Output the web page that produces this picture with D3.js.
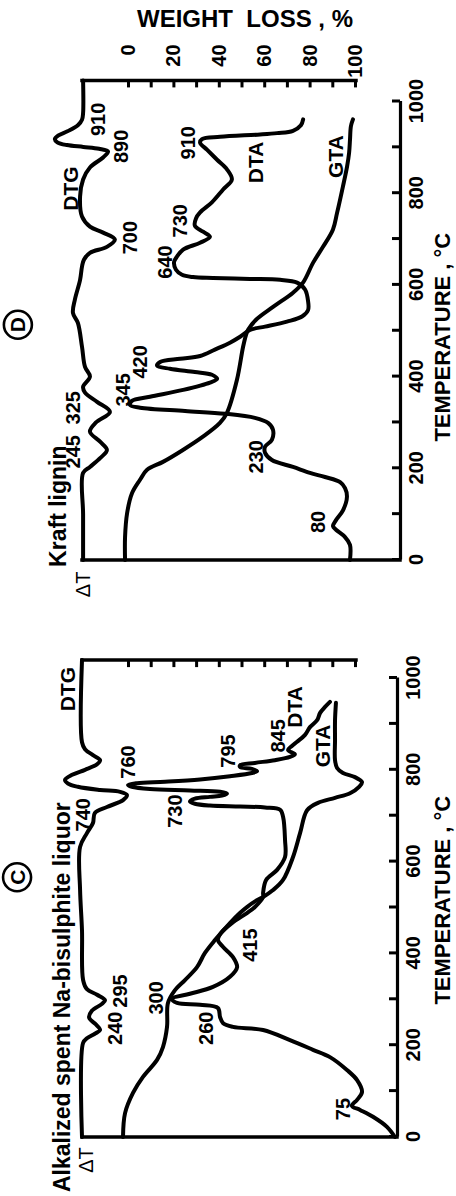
<!DOCTYPE html>
<html>
<head>
<meta charset="utf-8">
<script src="https://cdn.jsdelivr.net/npm/d3@7"></script>
<style>
  html, body { margin: 0; padding: 0; background: #fff; }
  svg { display: block; }
  text { font-family: "Liberation Sans", Arial, Helvetica, sans-serif; fill: #000; }
</style>
</head>
<body>
<svg id="chart" width="456" height="1196"></svg>
<script>
// ---------------- DATA ----------------
const tempTicks = [0, 100, 200, 300, 400, 500, 600, 700, 800, 900, 1000];
const tempTickLabels = [0, 200, 400, 600, 800, 1000];
const weightTicks = [0, 10, 20, 30, 40, 50, 60, 70, 80, 90, 100];
const weightTickLabels = [0, 20, 40, 60, 80, 100];

// Panel C: Alkalized spent Na-bisulphite liquor  ([temperature °C, value])
// DTG / DTA in relative deflection units (0-100), GTA in weight loss %
const liquorDTG = [[0,0],[205,0.4],[215,1.8],[225,4.7],[233,6.6],[245,5.1],[260,2.6],[275,3.6],[290,7.3],[298,8.4],[310,5.5],[322,1.8],[342,0.4],[450,0],[538,-0.7],[632,-0.7],[662,1.8],[684,4],[706,4.7],[719,9.1],[734,15],[745,16.4],[752,13.9],[756,6.6],[763,-1.5],[770,-5.1],[778,-6.2],[789,-3.6],[800,1.1],[812,5.5],[821,6.6],[832,4],[845,1.1],[860,0],[1039,0]];
const liquorDTA = [[0,114.2],[22,111.3],[44,106.2],[59,101.5],[68,98.5],[81,100.4],[98,102.2],[124,100.4],[146,96.7],[174,90.5],[190,84.3],[211,75.9],[233,66.1],[240,55.1],[248,51.5],[261,50.4],[281,49.6],[288,43.1],[292,34.7],[301,32.8],[312,39.4],[327,47.8],[349,54],[370,56.6],[392,55.1],[414,51.5],[429,49.6],[444,50.7],[466,54.7],[488,60.2],[501,63.1],[523,66.1],[532,66.1],[560,67.2],[582,71.2],[610,74.1],[647,74.1],[697,73.4],[713,72.3],[718,66.8],[720,57.7],[722,46.7],[726,41.2],[731,39.4],[737,41.2],[741,46.7],[744,51.1],[748,52.9],[752,50.4],[755,39.4],[758,24.8],[763,18.2],[767,16.8],[771,20.1],[774,30.3],[779,43.1],[786,54],[793,62],[797,63.9],[802,62],[806,57.7],[810,57.7],[815,63.1],[821,70.4],[828,75.9],[834,77.7],[843,75.2],[852,76.6],[861,78.5],[876,81.4],[893,83.2],[908,85.8],[924,86.9],[937,88.7],[948,90.5]];
const liquorGTA = [[0,-2.2],[52,-1.3],[96,2.2],[131,6.6],[168,12.8],[196,15.4],[240,17.2],[292,17.6],[320,20.7],[342,25.1],[370,30.4],[401,33.9],[429,38.3],[466,44.9],[488,49.3],[501,52.4],[516,56.8],[523,59.5],[538,63.9],[560,68.3],[610,72.7],[662,75.8],[712,78.9],[728,83.7],[739,91.2],[749,97.8],[763,101.8],[773,103.1],[784,100],[793,94.7],[804,92.1],[821,91.2],[865,91.2],[908,91.2],[946,91.6]];

// Panel D: Kraft lignin
const kraftDTG = [[0,0.4],[100,0.4],[190,0.4],[203,2.9],[222,6.6],[240,9.1],[258,6.6],[280,2.9],[300,5.1],[323,10.2],[345,5.5],[365,1.1],[378,0.4],[400,2.9],[421,1.1],[465,0],[517,-1.5],[539,-3.3],[568,-2.6],[611,-0.7],[640,0],[655,0.7],[670,2.9],[683,9.1],[699,12],[714,7.7],[727,2.9],[749,0],[793,-0.7],[830,0.4],[856,2.9],[878,7.7],[891,9.5],[897,6.2],[901,0.5],[905,-5.5],[911,-9],[918,-9.9],[926,-8.6],[935,-5.3],[948,-1.5],[960,0],[975,0.4],[1046,0.4]];
const kraftDTA = [[0,97.8],[33,97.8],[50,96],[66,92.7],[74,91.6],[87,92.7],[109,95.3],[138,96.7],[157,96],[170,94.2],[181,88.7],[190,83.2],[203,77],[218,69.3],[234,66.8],[247,66.8],[262,69.3],[284,69.7],[299,67.9],[310,63.1],[319,52.2],[325,37.6],[332,21.2],[338,17.5],[347,18.2],[356,24.8],[371,36.9],[387,46.7],[395,49.3],[404,47.4],[410,41.2],[417,32.1],[424,27.4],[432,28.5],[439,35.8],[445,43.1],[459,48.5],[474,54],[487,57.7],[502,61.3],[509,66.8],[520,74.8],[531,80.3],[545,82.5],[565,82.5],[590,81.4],[605,78.5],[611,72.3],[613,61.3],[615,47.8],[617,40.5],[622,36.5],[633,34.3],[650,33.6],[662,34.7],[677,36.9],[692,43.1],[705,46.7],[716,44.2],[729,41.2],[745,41.6],[758,43.1],[780,47.4],[808,51.5],[830,54.7],[852,52.9],[873,49.3],[895,45.6],[910,43.1],[918,43.8],[923,50.4],[928,65],[931,71.2],[936,77],[948,79.9],[961,80.7]];
const kraftGTA = [[0,-1.3],[50,-1.3],[102,-0.4],[146,1.8],[175,5.3],[197,8.4],[214,15.4],[240,24.2],[269,33],[299,40.5],[321,43.6],[393,48],[465,50.7],[491,52],[502,52.9],[524,56.4],[552,63.9],[583,72.7],[605,77.1],[648,81.5],[683,85.9],[721,90.3],[757,92.1],[815,94.7],[858,96.5],[888,97.4],[917,97.8],[946,98.2],[961,99.1]];

// Peak annotations: [text, temperature position, deflection position]
const liquorPeakLabels = [["240",237,14.6],["295",318,16.4],["300",303,29.6],["260",237,47.8],["415",418,63.9],["75",61,97.8],["740",702,2.9],["760",817,19.3],["730",710,36.5],["795",841,55.8],["845",874,74.1]];
const liquorCurveNames = [["DTG",976,-2.6],["DTA",937,80.3],["GTA",852,90.5]];
const kraftPeakLabels = [["245",236,-0.7],["325",332,-0.7],["345",371,17.5],["420",432,23.7],["230",225,66.1],["80",83,88.7],["640",650,32.8],["730",740,38.3],["910",910,41.2],["700",703,20.1],["890",902,16.8],["910",961,8.4]];
const kraftCurveNames = [["DTG",810,-1.5],["DTA",867,66.1],["GTA",880,95.3]];

// ---------------- DRAWING ----------------
const W = 456, H = 1196;
const svg = d3.select("#chart");
const FONT = '"Liberation Sans", Arial, Helvetica, sans-serif';

// whole figure is rotated 90° counter-clockwise
const root = svg.append("g").attr("transform", `translate(0,${H}) rotate(-90)`);

const sig = d3.scaleLinear().domain([0, 100]).range([82, 356]);   // ΔT deflection
const wl = d3.scaleLinear().domain([0, 100]).range([128, 355]);   // weight loss %

const panels = [
  { key: "C", title: "Alkalized spent Na-bisulphite liquor", titleT: -120, titleS: -4.4,
    dtT: -78, dtS: 4, x: d3.scaleLinear().domain([0, 1000]).range([59, 518]),
    axisV: 397, frameT: 1039, circT: 566, circS: -23.7, showWL: false, axTitleT: 516,
    dtg: liquorDTG, dta: liquorDTA, gta: liquorGTA, peaks: liquorPeakLabels, names: liquorCurveNames },
  { key: "D", title: "Kraft lignin", titleT: -15, titleS: -5.8,
    dtT: -81, dtS: 2.9, x: d3.scaleLinear().domain([0, 1000]).range([636, 1094.5]),
    axisV: 400, frameT: 1046, circT: 513, circS: -23.4, showWL: true, axTitleT: 486,
    dtg: kraftDTG, dta: kraftDTA, gta: kraftGTA, peaks: kraftPeakLabels, names: kraftCurveNames }
];

function addText(sel, str, u, v, size, weight, anchor) {
  return sel.append("text")
    .attr("transform", `translate(${u},${v})`)
    .attr("text-anchor", anchor)
    .style("font-size", size + "px")
    .style("font-weight", weight)
    .style("font-family", FONT)
    .text(str);
}

panels.forEach(p => {
  const x = p.x;
  const pg = root.append("g");

  // bottom frame line at 0 °C
  pg.append("line")
    .attr("x1", x(0)).attr("x2", x(0))
    .attr("y1", sig(0)).attr("y2", p.axisV)
    .attr("stroke", "#000").attr("stroke-width", 3.5).attr("stroke-linecap", "square");

  // temperature axis
  const ta = pg.append("g")
    .attr("transform", `translate(0,${p.axisV})`)
    .call(d3.axisBottom(x).tickValues(tempTicks)
      .tickFormat(d => tempTickLabels.includes(d) ? d : "")
      .tickSizeInner(-8).tickSizeOuter(0).tickPadding(9));
  ta.select(".domain").attr("stroke-width", 3.2);
  ta.selectAll(".tick line").attr("stroke-width", 3);
  ta.selectAll("text").style("font-size", "20px").style("font-weight", "bold").style("font-family", FONT);

  // weight-loss axis (top frame)
  pg.append("line")
    .attr("x1", x(p.frameT)).attr("x2", x(p.frameT))
    .attr("y1", sig(0)).attr("y2", wl(100) + 1)
    .attr("stroke", "#000").attr("stroke-width", 3.5).attr("stroke-linecap", "square");
  const wa = pg.append("g")
    .attr("transform", `translate(${x(p.frameT)},0)`)
    .call(d3.axisRight(wl).tickValues(weightTicks)
      .tickFormat(d => (p.showWL && weightTickLabels.includes(d)) ? d : "")
      .tickSizeInner(-7).tickSizeOuter(0));
  wa.select(".domain").remove();
  wa.selectAll(".tick line").attr("stroke-width", 3);
  wa.selectAll("text").attr("x", 36).attr("text-anchor", "end")
    .style("font-size", "20px").style("font-weight", "bold").style("font-family", FONT);

  // curves
  const mk = sc => d3.line().x(d => x(d[0])).y(d => sc(d[1])).curve(d3.curveCatmullRom.alpha(0.5));
  [[p.dtg, sig], [p.dta, sig], [p.gta, wl]].forEach(([data, sc]) => {
    pg.append("path").datum(data)
      .attr("d", mk(sc))
      .attr("fill", "none").attr("stroke", "#000")
      .attr("stroke-width", 4).attr("stroke-linejoin", "round").attr("stroke-linecap", "round");
  });

  // peak temperature labels
  p.peaks.forEach(([t, T, s]) => addText(pg, t, x(T), sig(s), 20, "bold", "middle"));
  p.names.forEach(([t, T, s]) => addText(pg, t, x(T), sig(s), 21, "bold", "middle"));

  // title, ΔT, circled letter, axis title
  addText(pg, p.title, x(p.titleT), sig(p.titleS), 23, "bold", "start");
  addText(pg, "\u0394T", x(p.dtT), sig(p.dtS), 20, "normal", "start");
  pg.append("circle").attr("cx", x(p.circT)).attr("cy", sig(p.circS)).attr("r", 14)
    .attr("fill", "none").attr("stroke", "#000").attr("stroke-width", 2.6);
  addText(pg, p.key, x(p.circT), sig(p.circS) + 7.5, 21, "bold", "middle");
  addText(pg, "TEMPERATURE\u00A0,\u00A0\u00B0C", x(p.axTitleT), 450, 22, "bold", "middle");
});

// weight loss title (horizontal on the page)
svg.append("text")
  .attr("x", 245).attr("y", 27)
  .attr("text-anchor", "middle")
  .style("font-size", "24px").style("font-weight", "bold").style("font-family", FONT)
  .text("WEIGHT\u00A0\u00A0LOSS\u00A0,\u00A0%");
</script>
</body>
</html>
